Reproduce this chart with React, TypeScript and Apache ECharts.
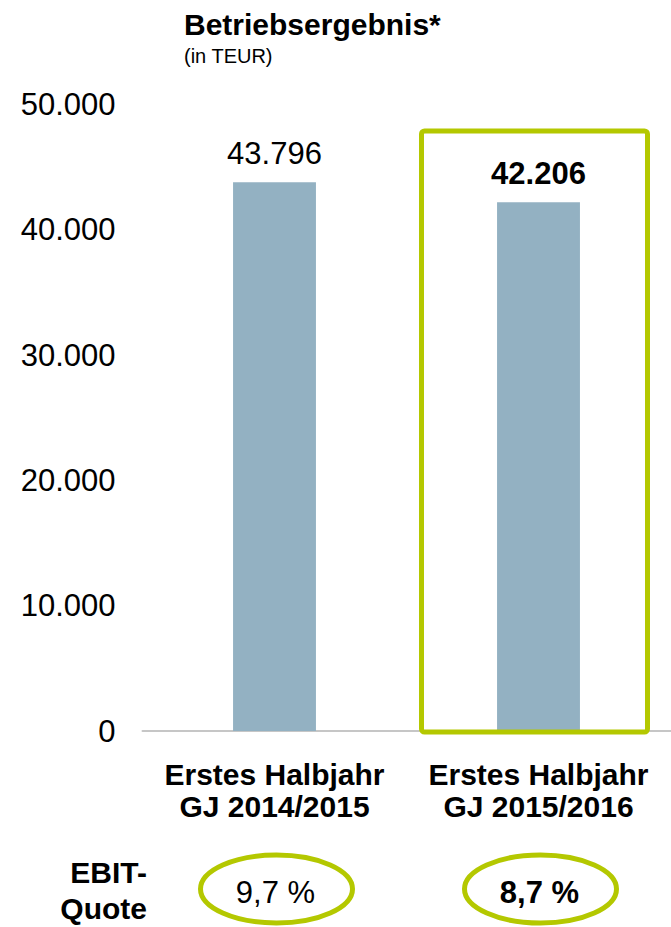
import React, { useEffect, useRef } from "react";
import * as echarts from "echarts";

const categories = ["Erstes Halbjahr\nGJ 2014/2015", "Erstes Halbjahr\nGJ 2015/2016"];
const values = [43796, 42206];
const ebitQuote = ["9,7 %", "8,7 %"];
const highlighted = [false, true];
const yTicks = { min: 0, max: 50000, interval: 10000 };

const FONT = "Liberation Sans, Arial, sans-serif";
const GREEN = "#b4c800";
const BAR = "#93b1c2";

const fmt = (v: number) => String(v).replace(/\B(?=(\d{3})+(?!\d))/g, ".");

export default function App() {
  const ref = useRef<HTMLDivElement>(null);
  useEffect(() => {
    if (!ref.current) return;
    const chart = echarts.init(ref.current, null, { renderer: "svg" });
    chart.setOption({
      animation: false,
      textStyle: { fontFamily: FONT },
      grid: { left: 142.5, right: 0.5, top: 104.5, bottom: 196 },
      title: {
        text: "Betriebsergebnis*",
        subtext: "(in TEUR)",
        left: 179,
        top: 4,
        itemGap: 7,
        textStyle: { fontFamily: FONT, fontSize: 30, fontWeight: "bold", color: "#000" },
        subtextStyle: { fontFamily: FONT, fontSize: 20, color: "#000" },
      },
      xAxis: {
        type: "category",
        data: categories,
        axisLine: { lineStyle: { color: "#c6c6c6", width: 2 } },
        axisTick: { show: false },
        axisLabel: {
          fontFamily: FONT,
          fontSize: 30,
          fontWeight: "bold",
          color: "#000",
          lineHeight: 32,
          margin: 27,
          interval: 0,
        },
      },
      yAxis: {
        type: "value",
        min: yTicks.min,
        max: yTicks.max,
        interval: yTicks.interval,
        splitLine: { show: false },
        axisLine: { show: false },
        axisTick: { show: false },
        axisLabel: {
          fontFamily: FONT,
          fontSize: 31,
          color: "#000",
          margin: 27,
          formatter: (v: number) => fmt(v),
        },
      },
      series: [
        {
          type: "bar",
          barWidth: "31.4%",
          itemStyle: { color: BAR },
          data: values.map((v, i) => ({
            value: v,
            label: {
              show: true,
              position: "top",
              distance: 13,
              fontFamily: FONT,
              fontSize: 31,
              fontWeight: highlighted[i] ? "bold" : "normal",
              color: "#000",
              formatter: (p: any) => fmt(p.value),
            },
          })),
        },
      ],
    });

    const cx = categories.map((c) => chart.convertToPixel({ xAxisIndex: 0 }, c) as number);
    const graphics: any[] = [];
    categories.forEach((c, i) => {
      if (highlighted[i]) {
        graphics.push({
          type: "rect",
          shape: { x: cx[i] - 117, y: 131, width: 226, height: 601, r: 3 },
          style: { fill: "none", stroke: GREEN, lineWidth: 5 },
          z: 10,
        });
      }
      graphics.push({
        type: "ellipse",
        shape: { cx: cx[i] + 2, cy: 889, rx: 76, ry: 34 },
        style: { fill: "none", stroke: GREEN, lineWidth: 5 },
      });
      graphics.push({
        type: "text",
        x: cx[i] + 1,
        y: 892,
        style: {
          text: ebitQuote[i],
          fontFamily: FONT,
          fontSize: 31,
          fontWeight: highlighted[i] ? "bold" : "normal",
          fill: "#000",
          align: "center",
          verticalAlign: "middle",
        },
      });
    });
    graphics.push({
      type: "text",
      x: 147,
      y: 890,
      style: {
        text: "EBIT-\nQuote",
        fontFamily: FONT,
        fontSize: 30,
        fontWeight: "bold",
        fill: "#000",
        align: "right",
        verticalAlign: "middle",
        lineHeight: 36,
      },
    });
    chart.setOption({ graphic: graphics });
    return () => chart.dispose();
  }, []);
  return (
    <div
      ref={ref}
      style={{ position: "fixed", left: 0, top: 0, width: 671, height: 927, background: "#fff" }}
    />
  );
}
